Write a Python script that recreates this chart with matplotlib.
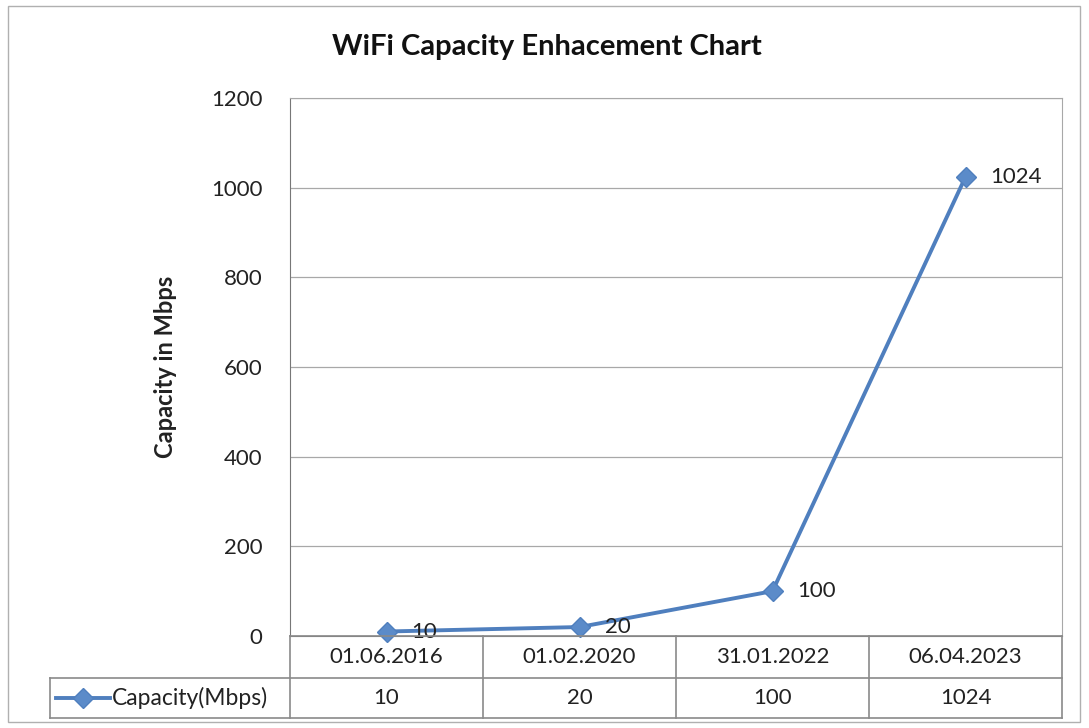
import matplotlib
matplotlib.use("Agg")
import matplotlib.pyplot as plt
from matplotlib.lines import Line2D
from matplotlib.patches import Rectangle

categories = ["01.06.2016", "01.02.2020", "31.01.2022", "06.04.2023"]
capacity = [10, 20, 100, 1024]
series_name = "Capacity(Mbps)"
title = "WiFi Capacity Enhacement Chart"
ylabel = "Capacity in Mbps"
yticks = [0, 200, 400, 600, 800, 1000, 1200]

plt.rcParams['font.family'] = ['Lato', 'DejaVu Sans']
W, H = 1089, 728
fig = plt.figure(figsize=(W / 100, H / 100), dpi=100)
fig.patch.set_facecolor('white')

def fx(px):
    return px / W

def fy(py):
    return 1 - py / H

FS = 16
L, R, T, B = 290, 1062, 98, 636
ax = fig.add_axes([fx(L), fy(B), fx(R) - fx(L), fy(T) - fy(B)])
color = '#4F7FBE'
x = list(range(len(categories)))
ax.plot(x, capacity, color=color, lw=2.8, marker='D', ms=10, mec=color, mfc='#5B8BC9', zorder=3, clip_on=False)
for xi, v in zip(x, capacity):
    ax.annotate(str(v), (xi, v), xytext=(18, 0), textcoords='offset points',
                ha='left', va='center', fontsize=FS, color='#222222')
ax.set_xlim(-0.5, len(categories) - 0.5)
ax.set_ylim(0, 1200)
ax.set_yticks(yticks)
ax.set_yticklabels([str(t) for t in yticks], fontsize=FS, color='#222222')
ax.set_xticks([])
ax.tick_params(axis='y', length=0, pad=20)
ax.grid(axis='y', color='#a8a8a8', lw=0.9)
ax.set_axisbelow(True)
for s in ['top', 'right']:
    ax.spines[s].set_visible(True)
    ax.spines[s].set_color('#a8a8a8')
ax.spines['left'].set_color('#777777')
ax.spines['bottom'].set_color('#777777')
ax.set_ylabel(ylabel, fontsize=17, fontweight='bold', labelpad=24, color='#222222')
fig.text(fx(547), fy(47), title, ha='center', va='center', fontsize=21, fontweight='bold', color='#111111')

# data table
line_c = '#8a8a8a'
r1, r2, r3 = 636, 678, 718
lx = 50
cw = (R - L) / len(categories)
def hline(x0, x1, y):
    fig.add_artist(Line2D([fx(x0), fx(x1)], [fy(y), fy(y)], color=line_c, lw=1.2))
def vline(xp, y0, y1):
    fig.add_artist(Line2D([fx(xp), fx(xp)], [fy(y0), fy(y1)], color=line_c, lw=1.2))
hline(L, R, r1)
hline(lx, R, r2)
hline(lx, R, r3)
vline(lx, r2, r3)
for i in range(len(categories) + 1):
    vline(L + i * cw, r1, r3)
for i, (c, v) in enumerate(zip(categories, capacity)):
    cx = L + (i + 0.5) * cw
    fig.text(fx(cx), fy((r1 + r2) / 2), c, ha='center', va='center', fontsize=FS, color='#222222')
    fig.text(fx(cx), fy((r2 + r3) / 2), str(v), ha='center', va='center', fontsize=FS, color='#222222')
ym = (r2 + r3) / 2
fig.add_artist(Line2D([fx(56), fx(110)], [fy(ym), fy(ym)], color=color, lw=2.8))
fig.add_artist(Line2D([fx(83)], [fy(ym)], color=color, marker='D', ms=10, lw=0, mec=color, mfc='#5B8BC9'))
fig.text(fx(112), fy(ym), series_name, ha='left', va='center', fontsize=16.5, color='#222222')

# outer chart border
fig.add_artist(Rectangle((fx(8), fy(722)), fx(1080) - fx(8), fy(6) - fy(722), fill=False,
                         ec='#b0b0b0', lw=1.0))

fig.savefig('out.png', dpi=100)
